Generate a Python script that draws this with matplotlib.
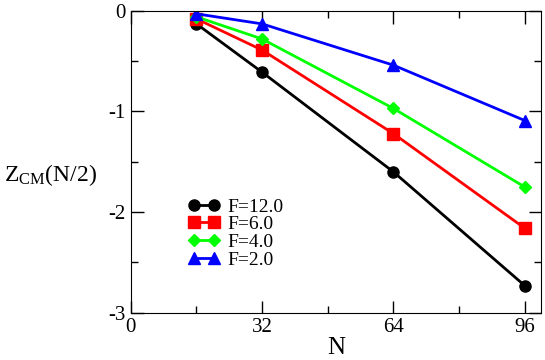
import matplotlib
matplotlib.use('Agg')
import matplotlib.pyplot as plt
from matplotlib.ticker import MultipleLocator

plt.rcParams['font.family'] = ['Liberation Serif', 'DejaVu Serif']
plt.rcParams['mathtext.fontset'] = 'custom'
plt.rcParams['mathtext.rm'] = 'Liberation Serif'
plt.rcParams['axes.unicode_minus'] = False

# data
N = [16, 32, 64, 96]
z_f12 = [-0.13, -0.61, -1.60, -2.73]
z_f6 = [-0.08, -0.39, -1.22, -2.16]
z_f4 = [-0.06, -0.28, -0.97, -1.75]
z_f2 = [-0.03, -0.13, -0.54, -1.09]

series = [
    ('F=12.0', z_f12, 'black', 'o'),
    ('F=6.0', z_f6, 'red', 's'),
    ('F=4.0', z_f4, '#00ff00', 'D'),
    ('F=2.0', z_f2, 'blue', '^'),
]

fig = plt.figure(figsize=(5.45, 3.6), dpi=100)
ax = fig.add_axes([0.240, 0.131, 0.753, 0.839])

for label, vals, color, marker in series:
    ms = 6.5 if marker == 'D' else 8
    ax.plot(N, vals, color=color, marker=marker, ms=ms, lw=2, label=label)

ax.set_xlim(0, 100)
ax.set_ylim(-3, 0)
ax.xaxis.set_major_locator(MultipleLocator(32))
ax.xaxis.set_minor_locator(MultipleLocator(16))
ax.yaxis.set_major_locator(MultipleLocator(1))
ax.yaxis.set_minor_locator(MultipleLocator(0.5))
ax.tick_params(which='both', direction='in', top=True, right=True, labelsize=15)
ax.tick_params(which='major', length=9, width=1)
ax.tick_params(which='minor', length=5, width=1)

ax.set_xlabel('N', fontsize=18, labelpad=0)
ax.set_ylabel(r'$\mathrm{Z_{CM}}$(N/2)', fontsize=17, rotation=0, ha='center', va='center')
ax.yaxis.set_label_coords(-0.195, 0.457)

ax.legend(loc='upper left', bbox_to_anchor=(0.141, 0.38), frameon=False, numpoints=2,
          fontsize=14, handlelength=1.6, handletextpad=0.4, labelspacing=0.0,
          borderpad=0, borderaxespad=0)

fig.savefig('out.png', dpi=100)
